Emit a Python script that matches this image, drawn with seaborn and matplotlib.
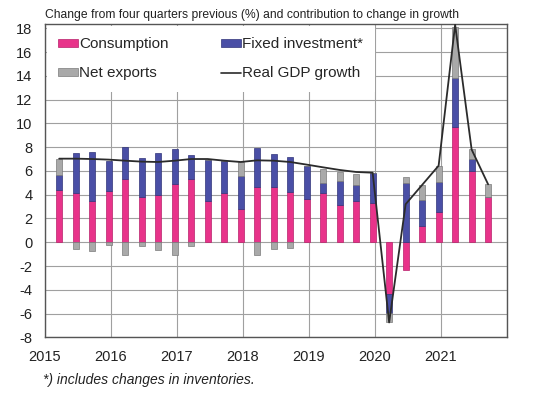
import numpy as np
import pandas as pd
import matplotlib
matplotlib.use("Agg")
import matplotlib.pyplot as plt
import seaborn as sns
from matplotlib.patches import Patch
from matplotlib.lines import Line2D

# quarterly data, 2015Q1 .. 2021Q3
years = [2015] * 4 + [2016] * 4 + [2017] * 4 + [2018] * 4 + [2019] * 4 + [2020] * 4 + [2021] * 3
quarter = [1, 2, 3, 4] * 6 + [1, 2, 3]

consumption = [4.43, 4.17, 3.50, 4.29, 5.35, 3.78, 3.95, 4.90, 5.29, 3.45, 4.12, 2.83,
               4.65, 4.65, 4.20, 3.67, 4.15, 3.11, 3.45, 3.28, -4.34, -2.32, 1.34, 2.55,
               9.66, 6.02, 3.81]
investment = [1.20, 3.31, 4.09, 2.57, 2.63, 3.31, 3.55, 2.97, 2.02, 3.47, 2.68, 2.77,
              3.30, 2.80, 2.97, 2.72, 0.84, 2.02, 1.40, 2.52, -1.63, 4.96, 2.25, 2.49,
              4.18, 1.01, 0.00]
net_exports = [1.37, -0.53, -0.73, -0.20, -1.06, -0.34, -0.67, -1.04, -0.31, 0.00, 0.00, 1.18,
               -1.09, -0.56, -0.50, 0.00, 1.17, 0.78, 0.92, 0.00, -0.78, 0.50, 1.23, 1.40,
               4.28, 0.79, 1.06]
gdp_growth = [7.03, 7.03, 7.00, 6.95, 6.86, 6.78, 6.75, 6.86, 7.00, 7.00, 6.86, 6.75,
              6.89, 6.86, 6.75, 6.53, 6.30, 6.08, 5.91, 5.85, -6.75, 3.20, 4.82, 6.44,
              18.30, 7.80, 4.87]

year_ticks = [2015, 2016, 2017, 2018, 2019, 2020, 2021, 2022]
year_labels = ["2015", "2016", "2017", "2018", "2019", "2020", "2021", ""]

PINK = "#e8338a"
BLUE = "#4a4fa6"
GREY = "#a9a9a9"

sns.set_theme(style="white")
plt.rcParams["font.family"] = ["Liberation Sans", "DejaVu Sans"]
plt.rcParams["axes.unicode_minus"] = False

df = pd.DataFrame({
    "x": np.array(years) + 0.25 * np.array(quarter) - 0.035,
    "Consumption": consumption,
    "Fixed investment*": investment,
    "Net exports": net_exports,
    "gdp": gdp_growth,
})

fig = plt.figure(figsize=(5.39, 3.95), dpi=100)
ax = fig.add_axes([0.0835, 0.146, 0.857, 0.793])

# excel style stacking: positives up, negatives down
pos_base = np.zeros(len(df))
neg_base = np.zeros(len(df))
series = [("Consumption", PINK, "#b8206a"), ("Fixed investment*", BLUE, "#30347a"),
          ("Net exports", GREY, "#7a7a7a")]
for name, col, edge in series:
    vals = df[name].to_numpy()
    bottom = np.where(vals >= 0, pos_base, neg_base)
    sns.barplot(data=df, x="x", y=name, native_scale=True, width=0.35,
                color=col, edgecolor=edge, linewidth=0.5, errorbar=None,
                bottom=bottom, saturation=1, ax=ax, zorder=3)
    pos_base = pos_base + np.clip(vals, 0, None)
    neg_base = neg_base + np.clip(vals, None, 0)

sns.lineplot(data=df, x="x", y="gdp", color="#2b2b2b", linewidth=1.3, ax=ax, zorder=4)

ax.set_xlim(2015, 2022)
ax.set_ylim(-8, 18.35)
ax.set_xticks(year_ticks)
ax.set_xticklabels(year_labels)
ax.set_yticks(range(-8, 19, 2))
ax.set_xlabel("")
ax.set_ylabel("")
ax.grid(True, color="#a0a0a0", linewidth=0.8)
ax.set_axisbelow(True)
for s in ax.spines.values():
    s.set_color("#555555")
    s.set_linewidth(1)
ax.tick_params(axis="y", direction="in", length=3, pad=9, labelsize=10.5, colors="#222222")
ax.tick_params(axis="x", length=0, pad=9, labelsize=10.5, colors="#222222")
for lab in ax.get_xticklabels() + ax.get_yticklabels():
    lab.set_color("#222222")

handles = [
    Patch(facecolor=PINK, edgecolor="#b8206a", linewidth=0.5),
    Patch(facecolor=GREY, edgecolor="#7a7a7a", linewidth=0.5),
    Patch(facecolor=BLUE, edgecolor="#30347a", linewidth=0.5),
    Line2D([], [], color="#2b2b2b", linewidth=1.2),
]
labels = ["Consumption", "Net exports", "Fixed investment*", "Real GDP growth"]
leg = ax.legend(handles, labels, ncol=2, loc="upper left", fontsize=11,
                frameon=True, facecolor="white", edgecolor="none", framealpha=1,
                fancybox=False, borderaxespad=0.1, handlelength=1.3, handleheight=0.45,
                handletextpad=0.1, columnspacing=3.4, labelspacing=1.0, borderpad=0.75)
leg.set_zorder(5)

fig.text(0.0835, 0.962, "Change from four quarters previous (%) and contribution to change in growth",
         fontsize=8.7, va="center", ha="left", color="#222222")
fig.text(0.08, 0.038, "*) includes changes in inventories.", fontsize=10, style="italic",
         va="center", ha="left", color="#222222")

fig.savefig("out.png", dpi=100)
